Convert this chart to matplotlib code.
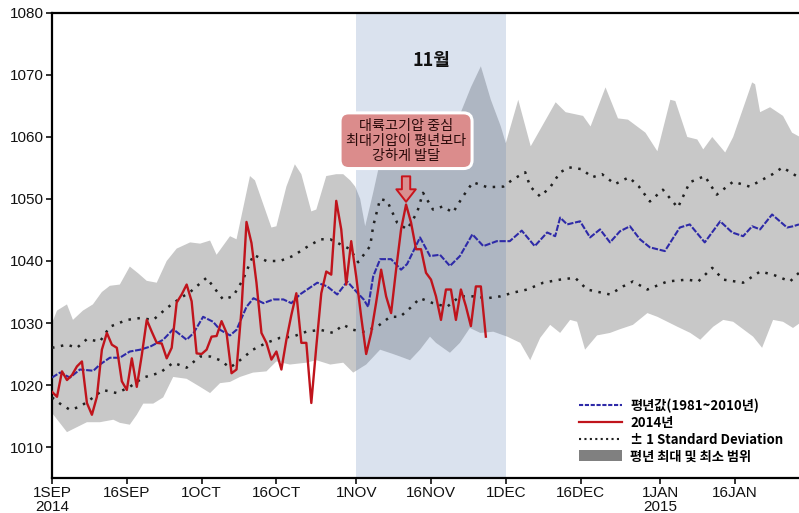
import matplotlib
matplotlib.use('Agg')
import matplotlib.pyplot as plt
import numpy as np
import pandas as pd
from matplotlib.patches import Patch
from matplotlib.lines import Line2D

plt.rcParams['font.family'] = ['Liberation Sans', 'DejaVu Sans']
KR = ['Noto Sans CJK KR', 'DejaVu Sans']

start = pd.Timestamp('2014-09-01')

# climatological max / min envelope (day offset from 1 Sep, hPa)
max_days = [0, 1, 3, 4.2, 6.2, 8.2, 10, 11.6, 13.6, 15.6, 17.3, 19, 21, 23, 25, 27.7, 29.7,
            31.7, 33, 35.7, 37, 39.7, 40.7, 42, 44, 45, 47, 48.7, 50, 52, 53, 55, 57, 58.4,
            59.8, 60.8, 61.8, 62.8, 64.4, 65.5, 67, 70, 73, 76, 79, 82, 84, 86, 88, 90, 91,
            93.5, 96, 101, 103, 106.5, 108, 111, 113.5, 115.5, 119, 121.4, 124, 125, 127.4,
            129.4, 130.6, 132.4, 135, 136.6, 140.4, 141, 142, 144, 146.6, 148.4, 150]
max_vals = [1030, 1032, 1033, 1030.5, 1032, 1033, 1035, 1036, 1036.2, 1039.1, 1038, 1036.8,
            1036.5, 1040, 1042, 1043, 1042.8, 1043.3, 1041, 1044, 1043.5, 1053.7, 1053, 1050,
            1045.4, 1045.6, 1052, 1055.6, 1054, 1048, 1048.3, 1053.7, 1054, 1054, 1053, 1052,
            1050, 1045.6, 1051, 1055, 1058, 1060, 1058, 1057, 1061, 1064, 1068, 1071.4, 1066,
            1061.7, 1059, 1066, 1058.5, 1065.6, 1064, 1063.4, 1061.7, 1068, 1063, 1062.8,
            1060.7, 1057.7, 1066, 1065.8, 1060, 1059.6, 1058, 1060, 1057.5, 1060, 1068.8,
            1068.5, 1064, 1064.8, 1063.4, 1060.7, 1060]

min_days = [0, 3, 5, 7, 9.6, 12.3, 13.6, 15.6, 17, 18.3, 20.3, 22.3, 24.3, 27, 29.7, 31.7,
            33.7, 35.7, 37.7, 40.3, 43, 45, 47.7, 51, 53, 55.8, 58.4, 60.4, 63, 65.8, 68.4,
            69.8, 71.8, 73.8, 75.8, 77, 79.8, 81.8, 83.8, 85.9, 88.5, 91.3, 93.9, 95.9, 97.9,
            99.9, 101.9, 103.9, 105.3, 106.9, 109.3, 111.9, 113.9, 116.5, 119.4, 121.4, 123.4,
            125.4, 128, 130, 132.6, 134.6, 136.6, 138.6, 140.6, 142.4, 144.6, 146.6, 148.6, 150]
min_vals = [1015.5, 1012.4, 1013.2, 1014, 1014, 1014.4, 1013.9, 1013.6, 1015.2, 1017, 1017,
            1018, 1021.3, 1021, 1019.7, 1018.7, 1020.3, 1020.5, 1021.3, 1022, 1022.2, 1023.8,
            1023.3, 1023.6, 1024, 1023.3, 1023.6, 1022, 1023.3, 1025.7, 1025, 1024.6, 1024,
            1025.7, 1027.8, 1026.8, 1025.2, 1026.8, 1029.2, 1028.4, 1028.6, 1027.8, 1026.8,
            1024, 1027.6, 1029.7, 1028.4, 1030.5, 1030.2, 1025.7, 1028, 1028.4, 1029, 1029.7,
            1031.6, 1031, 1030.2, 1029.4, 1028.4, 1027.3, 1029.4, 1030.5, 1030.2, 1029, 1027.8,
            1026, 1030.5, 1030.2, 1029.2, 1030]

# climatological mean (1981~2010)
mean_days = [0, 1.6, 3.6, 5.6, 8.3, 9.6, 11.6, 13.6, 15.6, 17.7, 19.7, 22.3, 24.3, 27, 28.4,
             30.3, 32.3, 33.7, 35.7, 37, 39, 40.4, 42.4, 44.4, 46.4, 48, 49.7, 53.2, 55.2,
             57.2, 59.2, 61.2, 62.5, 63.4, 64.4, 65.8, 68, 70, 71.2, 73.8, 75.8, 77.8, 79.8,
             81.8, 84.3, 86.5, 89.2, 91.8, 94.2, 96.8, 99.3, 100.9, 101.9, 103.3, 105.9, 107.9,
             109.9, 111.9, 113.9, 115.9, 117.9, 119.9, 122.9, 125.9, 127.9, 130.9, 134, 136.4,
             138.6, 140.4, 142, 144.4, 147.4, 148.6, 149.8]
mean_vals = [1021.2, 1022, 1021.2, 1022.5, 1022.3, 1023.3, 1024.4, 1024.4, 1025.4, 1025.7,
             1026.2, 1027.3, 1029, 1027.3, 1028.4, 1031, 1030.2, 1028.9, 1028, 1028.9, 1032.6,
             1034, 1033.2, 1033.8, 1033.8, 1033.2, 1034.6, 1036.5, 1035.9, 1034.6, 1036.7,
             1034.9, 1033.8, 1032.6, 1037.5, 1040.3, 1040.3, 1038.6, 1039.5, 1043.8, 1040.8,
             1041, 1039.2, 1040.8, 1044.3, 1042.4, 1043.2, 1043.2, 1044.9, 1042.4, 1044.6,
             1044, 1047, 1045.9, 1046.4, 1043.8, 1045.1, 1043, 1044.8, 1045.6, 1043.5, 1042.2,
             1041.6, 1045.4, 1045.9, 1043, 1046.4, 1044.6, 1044, 1045.6, 1045.1, 1047.5,
             1045.4, 1045.6, 1045.9]

# +1 / -1 standard deviation
sdu_days = [0, 3, 5, 7, 9.6, 11.6, 15, 17.7, 20.3, 23, 25.7, 27.7, 31, 32.3, 34.3, 36.3, 38.3,
            40.4, 43, 45.7, 48.3, 51, 53.8, 55.8, 57.8, 59.8, 61.4, 63.8, 64.4, 65.8, 67.2,
            69.2, 71.2, 73.2, 74.4, 76.4, 78.4, 80.4, 82.4, 84.4, 87.3, 90.5, 92.5, 94.9, 95.9,
            97.9, 99.9, 101.9, 103.7, 106.3, 108.3, 110.3, 112.9, 115.7, 117.7, 119.9, 122.5,
            125.5, 127.9, 130.9, 133.3, 136.6, 139.9, 144.5, 146.5, 149.3, 149.8]
sdu_vals = [1026, 1026.5, 1026, 1027.4, 1027, 1029.4, 1030.5, 1030.8, 1030.5, 1032.4, 1034,
            1035, 1037.3, 1035.9, 1033.8, 1034.3, 1037, 1041, 1040, 1040, 1040.8, 1042.2,
            1043.5, 1043.5, 1042.7, 1041.9, 1039.8, 1042.4, 1045.6, 1050, 1049.7, 1046.2,
            1045.1, 1047.8, 1051, 1048.3, 1048.8, 1047.8, 1050.4, 1052.7, 1051.9, 1052,
            1053.2, 1054.3, 1052, 1050.4, 1051.9, 1054.3, 1055.1, 1054.8, 1053.5, 1054,
            1052.4, 1053.5, 1052, 1049.6, 1051.5, 1048.6, 1052.7, 1053.7, 1050.7, 1052.8,
            1052, 1054, 1055.1, 1053.7, 1054.3]
sdu_vals = sdu_vals + [1053.5] * (len(sdu_days) - len(sdu_vals))

sdl_days = [0, 1.6, 3.6, 5.6, 7.6, 10.2, 13, 15.6, 18.3, 21.7, 24.3, 27, 29.7, 31.7, 33.7,
            35.7, 37.7, 40.3, 43, 45.7, 48.3, 51, 53.8, 56.4, 58.4, 60.4, 62.4, 65.2, 67.8,
            69.8, 71.8, 73.8, 76.4, 79.2, 81.8, 84.4, 87.3, 89.9, 92.5, 95.3, 98.5, 101.9,
            104.9, 107.3, 111.9, 114.5, 116.5, 119.4, 123.4, 127.4, 129.6, 132.4, 134.6, 138.6,
            142, 144.6, 148, 149.8]
sdl_vals = [1018, 1017, 1016, 1016.5, 1017.6, 1019.2, 1018.7, 1019.7, 1021.2, 1022, 1023.6,
            1022.8, 1024.6, 1024.6, 1024, 1022.8, 1024, 1025.7, 1026.8, 1027.6, 1027.8, 1028.6,
            1028.9, 1028.4, 1029.7, 1028.9, 1028.6, 1029.4, 1031, 1031, 1032.4, 1034, 1033.2,
            1032.6, 1034.3, 1034.3, 1034, 1034.3, 1034.9, 1035.4, 1036.5, 1037, 1037.3,
            1035.4, 1034.6, 1035.9, 1036.7, 1035.4, 1036.7, 1037, 1036.7, 1038.9, 1037,
            1036.5, 1038.3, 1037.8, 1036.7, 1038.1]

# 2014 daily values (1 Sep .. 27 Nov)
obs_2014 = [1018.9, 1018.1, 1022.2, 1020.8, 1021.6, 1023.0, 1023.8, 1017.1, 1015.2, 1018.1,
            1025.7, 1028.4, 1026.5, 1026.0, 1020.6, 1019.2, 1024.3, 1019.7, 1024.8, 1030.5,
            1028.6, 1026.8, 1026.7, 1024.3, 1026.0, 1033.3, 1034.6, 1036.2, 1033.5, 1025.1,
            1025.0, 1025.7, 1027.8, 1027.9, 1030.3, 1028.4, 1021.9, 1022.5, 1032.2, 1046.3,
            1042.9, 1036.5, 1028.4, 1026.8, 1024.1, 1025.4, 1022.5, 1027.3, 1031.3, 1034.8,
            1026.8, 1026.8, 1017.1, 1026.2, 1034.8, 1038.3, 1037.8, 1049.7, 1045.1, 1036.2,
            1043.2, 1037.5, 1031.0, 1025.0, 1028.4, 1033.3, 1038.6, 1034.3, 1031.6, 1038.6,
            1045.1, 1049.1, 1046.2, 1041.9, 1041.9, 1038.1, 1037.0, 1034.3, 1030.5, 1035.4,
            1035.4, 1030.5, 1035.4, 1032.7, 1029.5, 1035.9, 1035.9, 1027.8]

tick_dates = ['2014-09-01', '2014-09-16', '2014-10-01', '2014-10-16', '2014-11-01',
              '2014-11-16', '2014-12-01', '2014-12-16', '2015-01-01', '2015-01-16']
tick_labels = ['1SEP\n2014', '16SEP', '1OCT', '16OCT', '1NOV', '16NOV', '1DEC', '16DEC',
               '1JAN\n2015', '16JAN']

def day_of(d):
    return (pd.Timestamp(d) - start).days

fig = plt.figure(figsize=(7.99, 5.13), dpi=100)
ax = fig.add_axes([0.0651, 0.0682, 0.9349, 0.9065])

# max/min envelope
ax.fill(np.concatenate([max_days, min_days[::-1]]),
        np.concatenate([max_vals, min_vals[::-1]]),
        color='#c8c8c8', lw=0, zorder=1)

# November shading
ax.axvspan(day_of('2014-11-01'), day_of('2014-12-01'), color='#466eaa', alpha=0.2,
           lw=0, zorder=2)

ax.plot(sdu_days, sdu_vals, color='#202020', lw=1.8, ls=(0, (1, 2.6)), zorder=3)
ax.plot(sdl_days, sdl_vals, color='#202020', lw=1.8, ls=(0, (1, 2.6)), zorder=3)
ax.plot(mean_days, mean_vals, color='#2e2aa8', lw=1.5, ls=(0, (3, 0.8)), zorder=4)
obs_days = np.arange(len(obs_2014))
ax.plot(obs_days, obs_2014, color='#c0141c', lw=1.7, zorder=5)

ax.set_xlim(0, 149.8)
ax.set_ylim(1005, 1080)
ax.set_yticks(np.arange(1010, 1081, 10))
ax.set_xticks([day_of(d) for d in tick_dates])
ax.set_xticklabels(tick_labels, linespacing=0.95)
ax.tick_params(axis='both', labelsize=11, length=4, width=1.2, pad=2, colors='#111111')
for s in ['left', 'bottom', 'top']:
    ax.spines[s].set_linewidth(1.6)
ax.spines['right'].set_visible(False)

# month label
ax.text(day_of('2014-11-16'), 1072.3, '11월', family=KR, fontsize=13, fontweight='bold',
        ha='center', va='center', color='#111111', zorder=6)

# callout box and arrow pointing at November maximum
nov0 = day_of('2014-11-01')
peak_day = int(np.argmax(obs_2014[nov0:]) + nov0)
peak_val = obs_2014[peak_day]
ax.text(peak_day, 1059.4, '대륙고기압 중심\n최대기압이 평년보다\n강하게 발달', family=KR,
        fontsize=10.2, ha='center', va='center', color='#2a0a0a', linespacing=1.08, zorder=7,
        bbox=dict(boxstyle='round,pad=0.42,rounding_size=0.6', fc='#db8c8c', ec='white',
                  lw=2.2))
ax.annotate('', xy=(peak_day, peak_val), xytext=(peak_day, peak_val + 5.0),
            arrowprops=dict(arrowstyle='simple,head_length=0.9,head_width=1.4,tail_width=0.6',
                            fc='#d99090', ec='#c8141c', lw=1.4), zorder=7)

handles = [Line2D([], [], color='#2e2aa8', lw=1.5, ls=(0, (2, 0.8))),
           Line2D([], [], color='#c0141c', lw=1.6),
           Line2D([], [], color='#202020', lw=1.5, ls=(0, (1, 1.6))),
           Patch(facecolor='#808080', edgecolor='none')]
labels = ['평년값(1981~2010년)', '2014년', '± 1 Standard Deviation', '평년 최대 및 최소 범위']
ax.legend(handles, labels, loc='lower right', bbox_to_anchor=(0.995, 0.006), frameon=False,
          handlelength=3.3, handleheight=0.9, labelspacing=0.2, handletextpad=0.6,
          prop={'family': KR, 'size': 9.5, 'weight': 'bold'})

fig.savefig('out.png', dpi=100)
